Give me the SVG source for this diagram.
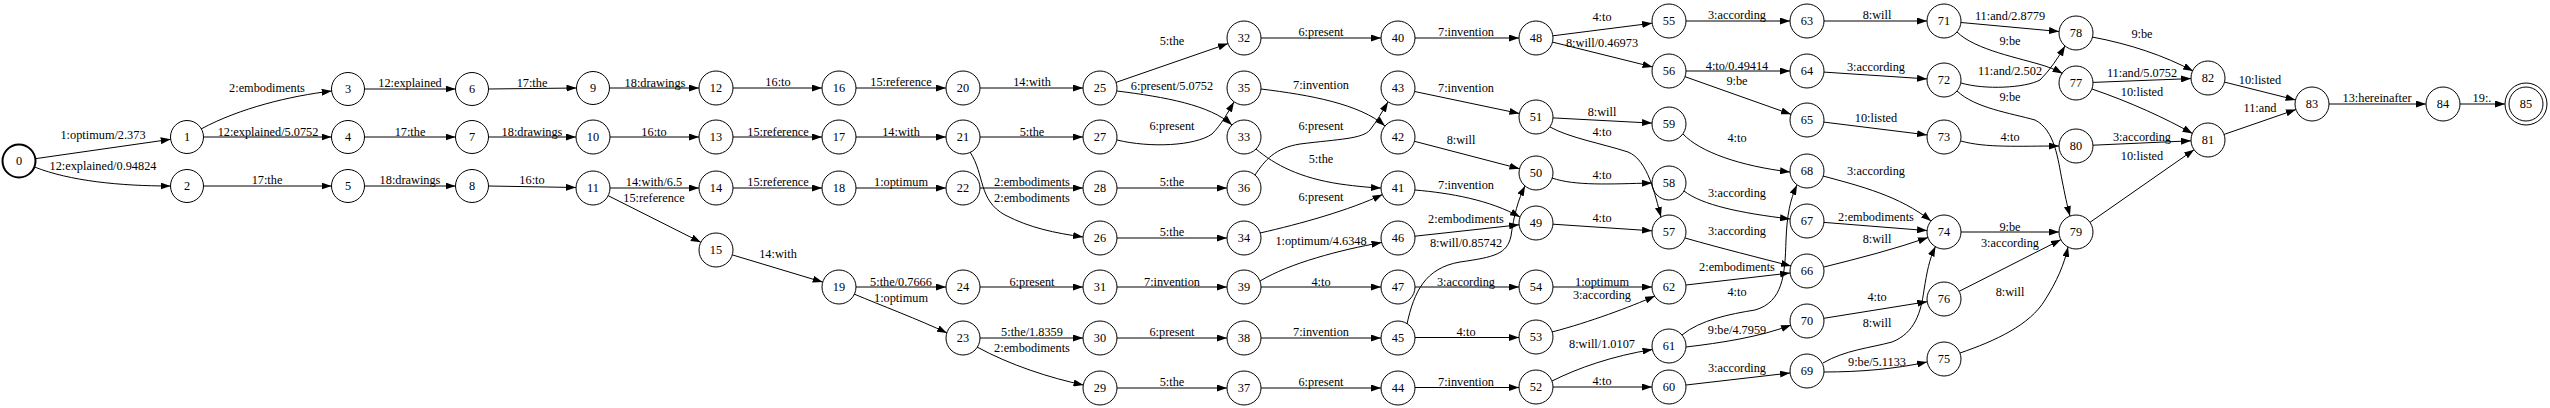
<svg xmlns="http://www.w3.org/2000/svg" width="2550" height="408" viewBox="0 0 2550 408">
<defs>
<marker id="a" markerUnits="userSpaceOnUse" markerWidth="10" markerHeight="7" refX="10" refY="3.5" orient="auto"><path d="M0,0 L10,3.5 L0,7 z" fill="#000"/></marker>
<style>
text{font-family:"Liberation Serif","Times New Roman",serif;font-size:12.3px;fill:#000;text-anchor:middle}
.n circle{fill:none;stroke:#000;stroke-width:1}
#edges path{fill:none;stroke:#000;stroke-width:1;marker-end:url(#a)}
</style>
</defs>
<rect width="2550" height="408" fill="#fff"/>
<g id="edges">
<g><path d="M35.3,158.7 L170.7,139.3"/><text x="103" y="139">1:optimum/2.373</text></g>
<g><path d="M34.5,167 C70,181 120,186 170.5,186"/><text x="103" y="170">12:explained/0.94824</text></g>
<g><path d="M201,129 C240,108 290,96 331.7,91"/><text x="267" y="92">2:embodiments</text></g>
<g><path d="M203.5,137 L331.5,137"/><text x="268" y="136">12:explained/5.0752</text></g>
<g><path d="M203.5,186 L331.5,186"/><text x="267" y="184">17:the</text></g>
<g><path d="M364.5,89 L455.5,89"/><text x="410" y="87">12:explained</text></g>
<g><path d="M364.5,137 L455.5,137"/><text x="410" y="136">17:the</text></g>
<g><path d="M364.5,186 L455.5,186"/><text x="410" y="184">18:drawings</text></g>
<g><path d="M488.5,89 L576.5,88"/><text x="532" y="86.5">17:the</text></g>
<g><path d="M488.5,137 L576,137"/><text x="532" y="136">18:drawings</text></g>
<g><path d="M488.5,186 L576,187.5"/><text x="532" y="184">16:to</text></g>
<g><path d="M609.5,88 L699,88"/><text x="655" y="86.5">18:drawings</text></g>
<g><path d="M610,137 L699,137"/><text x="654" y="136">16:to</text></g>
<g><path d="M610,188 L699,188"/><text x="654" y="186">14:with/6.5</text></g>
<g><path d="M608.2,195.7 L700.8,242.3"/><text x="654" y="202">15:reference</text></g>
<g><path d="M733,88 L822,88"/><text x="778" y="86">16:to</text></g>
<g><path d="M733,137 L822,137"/><text x="778" y="136">15:reference</text></g>
<g><path d="M733,188 L822,188"/><text x="778" y="186">15:reference</text></g>
<g><path d="M732.3,254.9 L822.7,282.1"/><text x="778" y="258">14:with</text></g>
<g><path d="M856,88 L946,88"/><text x="901" y="86">15:reference</text></g>
<g><path d="M856,137 L946,137"/><text x="901" y="136">14:with</text></g>
<g><path d="M856,188 L946,188"/><text x="901" y="186">1:optimum</text></g>
<g><path d="M856,287 L946,287"/><text x="901" y="285.5">5:the/0.7666</text></g>
<g><path d="M854,294 C880,305 920,320 947,333"/><text x="901" y="301.5">1:optimum</text></g>
<g><path d="M980,88 L1083,88"/><text x="1032" y="86">14:with</text></g>
<g><path d="M980,137 L1083,137"/><text x="1032" y="136">5:the</text></g>
<g><path d="M980,188 L1083,188"/><text x="1032" y="186">2:embodiments</text></g>
<g><path d="M970,152 C985,175 978,200 1005,215 C1030,228 1055,233 1083,237"/><text x="1032" y="202">2:embodiments</text></g>
<g><path d="M980,287 L1083,287"/><text x="1032" y="286">6:present</text></g>
<g><path d="M980,338 L1083,338"/><text x="1032" y="336">5:the/1.8359</text></g>
<g><path d="M977,347 C1010,365 1050,378 1083.5,385"/><text x="1032" y="352">2:embodiments</text></g>
<g><path d="M1116,82.4 L1228,43.6"/><text x="1172" y="45">5:the</text></g>
<g><path d="M1117,91 C1165,97 1210,105 1232,125"/><text x="1172" y="90">6:present/5.0752</text></g>
<g><path d="M1117,140 C1150,148 1195,146 1212,134 C1222,124 1228,112 1234,102"/><text x="1172" y="130">6:present</text></g>
<g><path d="M1117,188 L1227,188"/><text x="1172" y="186">5:the</text></g>
<g><path d="M1117,238 L1227,238"/><text x="1172" y="236">5:the</text></g>
<g><path d="M1117,287 L1227,287"/><text x="1172" y="286">7:invention</text></g>
<g><path d="M1117,338 L1227,338"/><text x="1172" y="336">6:present</text></g>
<g><path d="M1117,388 L1227,388"/><text x="1172" y="386">5:the</text></g>
<g><path d="M1261,38 L1381,38"/><text x="1321" y="36">6:present</text></g>
<g><path d="M1261,89 C1310,95 1360,104 1385,126"/><text x="1321" y="89">7:invention</text></g>
<g><path d="M1255,175 C1265,160 1275,148 1300,144 C1340,139 1362,139 1370,130 C1377,121 1382,112 1388,102"/><text x="1321" y="130">6:present</text></g>
<g><path d="M1256,149 C1275,165 1300,178 1340,184 C1358,186.5 1370,187.5 1381,188"/><text x="1321" y="163">5:the</text></g>
<g><path d="M1260,233 C1300,224 1350,210 1382.5,194.5"/><text x="1321" y="200.5">6:present</text></g>
<g><path d="M1260,281 C1290,263 1340,250 1381.5,242.5"/><text x="1321" y="244.5">1:optimum/4.6348</text></g>
<g><path d="M1261,287 L1381,287"/><text x="1321" y="285.5">4:to</text></g>
<g><path d="M1261,338 L1381,338"/><text x="1321" y="336">7:invention</text></g>
<g><path d="M1261,388 L1381,388"/><text x="1321" y="385.5">6:present</text></g>
<g><path d="M1415,38 L1519,38"/><text x="1466" y="36">7:invention</text></g>
<g><path d="M1414.6,91.5 L1519.4,113.5"/><text x="1466" y="92">7:invention</text></g>
<g><path d="M1414.5,141.3 L1519.5,168.7"/><text x="1461" y="144">8:will</text></g>
<g><path d="M1415,190 C1450,193 1490,200 1520,217"/><text x="1466" y="189">7:invention</text></g>
<g><path d="M1414.9,236.2 L1519.1,224.8"/><text x="1466" y="223">2:embodiments</text></g>
<g><path d="M1407,324 C1414,292 1425,268 1460,262 C1495,257 1507,254 1511,236 C1514,215 1518,200 1525,186"/><text x="1466" y="246.5">8:will/0.85742</text></g>
<g><path d="M1415,287 L1519,287"/><text x="1466" y="285.5">3:according</text></g>
<g><path d="M1415,337.5 L1519,337.5"/><text x="1466" y="336">4:to</text></g>
<g><path d="M1415,387.5 L1519,387.5"/><text x="1466" y="385.5">7:invention</text></g>
<g><path d="M1552.9,35.8 L1652.1,23.2"/><text x="1602" y="21">4:to</text></g>
<g><path d="M1552.5,42.1 L1652.5,66.9"/><text x="1602" y="46.5">8:will/0.46973</text></g>
<g><path d="M1553,117.9 L1652,123.1"/><text x="1602" y="116">8:will</text></g>
<g><path d="M1550,127 C1570,138 1600,143 1628,152 C1648,160 1655,195 1661,217"/><text x="1602" y="136">4:to</text></g>
<g><path d="M1552,178 C1575,186 1610,184 1652,183"/><text x="1602" y="179">4:to</text></g>
<g><path d="M1553,224.2 L1652,230.8"/><text x="1602" y="222">4:to</text></g>
<g><path d="M1553,287 L1652,287"/><text x="1602" y="285.5">1:optimum</text></g>
<g><path d="M1552,332 C1590,322 1630,307 1655,296"/><text x="1602" y="299">3:according</text></g>
<g><path d="M1552,381 C1578,368 1612,356 1652.5,349.5"/><text x="1602" y="348">8:will/1.0107</text></g>
<g><path d="M1553,387 L1652,387"/><text x="1602" y="385">4:to</text></g>
<g><path d="M1686,21 L1790,21"/><text x="1737" y="19">3:according</text></g>
<g><path d="M1686,71 L1790,71"/><text x="1737" y="69.5">4:to/0.49414</text></g>
<g><path d="M1685,76.7 L1791,114.3"/><text x="1737" y="85">9:be</text></g>
<g><path d="M1683,134 C1700,152 1740,166 1790,172"/><text x="1737" y="141.5">4:to</text></g>
<g><path d="M1684,191 C1702,205 1740,213 1790,219"/><text x="1737" y="196.5">3:according</text></g>
<g><path d="M1685,238 C1720,248 1760,258 1791,266"/><text x="1737" y="234.5">3:according</text></g>
<g><path d="M1686,285 L1790.1,273"/><text x="1737" y="271">2:embodiments</text></g>
<g><path d="M1682,335 C1700,320 1730,314 1755,310 C1783,302 1785,275 1786,240 C1787,215 1790,200 1797,185"/><text x="1737" y="296">4:to</text></g>
<g><path d="M1686,347 C1720,343 1760,337 1791,325"/><text x="1737" y="334">9:be/4.7959</text></g>
<g><path d="M1686,385 L1790,373"/><text x="1737" y="371.5">3:according</text></g>
<g><path d="M1824,21 L1927,21"/><text x="1877" y="19">8:will</text></g>
<g><path d="M1824,72.1 L1927,78.9"/><text x="1876" y="70.5">3:according</text></g>
<g><path d="M1823.9,122.1 L1927.1,134.9"/><text x="1876" y="121.5">10:listed</text></g>
<g><path d="M1823,176 C1860,186 1900,196 1931,221"/><text x="1876" y="175">3:according</text></g>
<g><path d="M1824,222.4 L1927,230.6"/><text x="1876" y="220.5">2:embodiments</text></g>
<g><path d="M1824,267 C1860,258 1895,249 1928,237.5"/><text x="1877" y="243">8:will</text></g>
<g><path d="M1823.8,318.3 L1927.2,301.7"/><text x="1877" y="301">4:to</text></g>
<g><path d="M1823,363 C1845,350 1870,348 1892,342 C1915,333 1921,312 1924,290 C1927,272 1929,260 1935.5,246.5"/><text x="1877" y="327">8:will</text></g>
<g><path d="M1824,372 C1860,372 1895,369 1927,362"/><text x="1877" y="365.5">9:be/5.1133</text></g>
<g><path d="M1961,22.5 L2059,31.5"/><text x="2010" y="20">11:and/2.8779</text></g>
<g><path d="M1957,32 C1975,50 2020,58 2045,66 C2054,69 2058,71 2062.5,73.5"/><text x="2010" y="44.5">9:be</text></g>
<g><path d="M1961,83 C1985,90 2025,88 2040,80 C2050,70 2058,58 2065,46"/><text x="2010" y="74.5">11:and/2.502</text></g>
<g><path d="M1957,91 C1975,108 2010,113 2035,120 C2055,130 2058,160 2062,180 C2065,195 2067,205 2070,216"/><text x="2010" y="101">9:be</text></g>
<g><path d="M1961,141 C1985,148 2020,146 2059,146"/><text x="2010" y="141">4:to</text></g>
<g><path d="M1961,232 L2059,232"/><text x="2010" y="230.5">9:be</text></g>
<g><path d="M1959.2,291.3 L2060.8,239.7"/><text x="2010" y="246.5">3:according</text></g>
<g><path d="M1960,353 C1995,341 2030,325 2045,300 C2057,281 2064,265 2068,247"/><text x="2010" y="295.5">8:will</text></g>
<g><path d="M2092,37 C2130,44 2165,56 2193,71"/><text x="2142" y="38">9:be</text></g>
<g><path d="M2093,82.4 L2191,78.6"/><text x="2142" y="77">11:and/5.0752</text></g>
<g><path d="M2092,89 C2130,102 2165,118 2192.5,133.5"/><text x="2142" y="95.5">10:listed</text></g>
<g><path d="M2093,145.2 L2191,140.8"/><text x="2142" y="141">3:according</text></g>
<g><path d="M2090,222.3 L2194.1,149.7"/><text x="2142" y="159.5">10:listed</text></g>
<g><path d="M2224.5,82.1 L2295.5,99.9"/><text x="2260" y="84">10:listed</text></g>
<g><path d="M2224.1,134.4 L2295.9,109.6"/><text x="2260" y="111.5">11:and</text></g>
<g><path d="M2329,104 L2426,104"/><text x="2377" y="102">13:hereinafter</text></g>
<g><path d="M2460,104 L2505,104"/><text x="2482" y="102">19:.</text></g>
</g>
<g id="n0" class="n"><circle cx="19" cy="161" r="16.5" style="stroke-width:2"/><text x="19" y="165.3">0</text></g>
<g id="n1" class="n"><circle cx="187" cy="137" r="16.5"/><text x="187" y="141.3">1</text></g>
<g id="n2" class="n"><circle cx="187" cy="186" r="16.5"/><text x="187" y="190.3">2</text></g>
<g id="n3" class="n"><circle cx="348" cy="89" r="16.5"/><text x="348" y="93.3">3</text></g>
<g id="n4" class="n"><circle cx="348" cy="137" r="16.5"/><text x="348" y="141.3">4</text></g>
<g id="n5" class="n"><circle cx="348" cy="186" r="16.5"/><text x="348" y="190.3">5</text></g>
<g id="n6" class="n"><circle cx="472" cy="89" r="16.5"/><text x="472" y="93.3">6</text></g>
<g id="n7" class="n"><circle cx="472" cy="137" r="16.5"/><text x="472" y="141.3">7</text></g>
<g id="n8" class="n"><circle cx="472" cy="186" r="16.5"/><text x="472" y="190.3">8</text></g>
<g id="n9" class="n"><circle cx="593" cy="88" r="16.5"/><text x="593" y="92.3">9</text></g>
<g id="n10" class="n"><circle cx="593" cy="137" r="17"/><text x="593" y="141.3">10</text></g>
<g id="n11" class="n"><circle cx="593" cy="188" r="17"/><text x="593" y="192.3">11</text></g>
<g id="n12" class="n"><circle cx="716" cy="88" r="17"/><text x="716" y="92.3">12</text></g>
<g id="n13" class="n"><circle cx="716" cy="137" r="17"/><text x="716" y="141.3">13</text></g>
<g id="n14" class="n"><circle cx="716" cy="188" r="17"/><text x="716" y="192.3">14</text></g>
<g id="n15" class="n"><circle cx="716" cy="250" r="17"/><text x="716" y="254.3">15</text></g>
<g id="n16" class="n"><circle cx="839" cy="88" r="17"/><text x="839" y="92.3">16</text></g>
<g id="n17" class="n"><circle cx="839" cy="137" r="17"/><text x="839" y="141.3">17</text></g>
<g id="n18" class="n"><circle cx="839" cy="188" r="17"/><text x="839" y="192.3">18</text></g>
<g id="n19" class="n"><circle cx="839" cy="287" r="17"/><text x="839" y="291.3">19</text></g>
<g id="n20" class="n"><circle cx="963" cy="88" r="17"/><text x="963" y="92.3">20</text></g>
<g id="n21" class="n"><circle cx="963" cy="137" r="17"/><text x="963" y="141.3">21</text></g>
<g id="n22" class="n"><circle cx="963" cy="188" r="17"/><text x="963" y="192.3">22</text></g>
<g id="n23" class="n"><circle cx="963" cy="338" r="17"/><text x="963" y="342.3">23</text></g>
<g id="n24" class="n"><circle cx="963" cy="287" r="17"/><text x="963" y="291.3">24</text></g>
<g id="n25" class="n"><circle cx="1100" cy="88" r="17"/><text x="1100" y="92.3">25</text></g>
<g id="n26" class="n"><circle cx="1100" cy="238" r="17"/><text x="1100" y="242.3">26</text></g>
<g id="n27" class="n"><circle cx="1100" cy="137" r="17"/><text x="1100" y="141.3">27</text></g>
<g id="n28" class="n"><circle cx="1100" cy="188" r="17"/><text x="1100" y="192.3">28</text></g>
<g id="n29" class="n"><circle cx="1100" cy="388" r="17"/><text x="1100" y="392.3">29</text></g>
<g id="n30" class="n"><circle cx="1100" cy="338" r="17"/><text x="1100" y="342.3">30</text></g>
<g id="n31" class="n"><circle cx="1100" cy="287" r="17"/><text x="1100" y="291.3">31</text></g>
<g id="n32" class="n"><circle cx="1244" cy="38" r="17"/><text x="1244" y="42.3">32</text></g>
<g id="n33" class="n"><circle cx="1244" cy="137" r="17"/><text x="1244" y="141.3">33</text></g>
<g id="n34" class="n"><circle cx="1244" cy="238" r="17"/><text x="1244" y="242.3">34</text></g>
<g id="n35" class="n"><circle cx="1244" cy="88" r="17"/><text x="1244" y="92.3">35</text></g>
<g id="n36" class="n"><circle cx="1244" cy="188" r="17"/><text x="1244" y="192.3">36</text></g>
<g id="n37" class="n"><circle cx="1244" cy="388" r="17"/><text x="1244" y="392.3">37</text></g>
<g id="n38" class="n"><circle cx="1244" cy="338" r="17"/><text x="1244" y="342.3">38</text></g>
<g id="n39" class="n"><circle cx="1244" cy="287" r="17"/><text x="1244" y="291.3">39</text></g>
<g id="n40" class="n"><circle cx="1398" cy="38" r="17"/><text x="1398" y="42.3">40</text></g>
<g id="n41" class="n"><circle cx="1398" cy="188" r="17"/><text x="1398" y="192.3">41</text></g>
<g id="n42" class="n"><circle cx="1398" cy="137" r="17"/><text x="1398" y="141.3">42</text></g>
<g id="n43" class="n"><circle cx="1398" cy="88" r="17"/><text x="1398" y="92.3">43</text></g>
<g id="n44" class="n"><circle cx="1398" cy="388" r="17"/><text x="1398" y="392.3">44</text></g>
<g id="n45" class="n"><circle cx="1398" cy="338" r="17"/><text x="1398" y="342.3">45</text></g>
<g id="n46" class="n"><circle cx="1398" cy="238" r="17"/><text x="1398" y="242.3">46</text></g>
<g id="n47" class="n"><circle cx="1398" cy="287" r="17"/><text x="1398" y="291.3">47</text></g>
<g id="n48" class="n"><circle cx="1536" cy="38" r="17"/><text x="1536" y="42.3">48</text></g>
<g id="n49" class="n"><circle cx="1536" cy="223" r="17"/><text x="1536" y="227.3">49</text></g>
<g id="n50" class="n"><circle cx="1536" cy="173" r="17"/><text x="1536" y="177.3">50</text></g>
<g id="n51" class="n"><circle cx="1536" cy="117" r="17"/><text x="1536" y="121.3">51</text></g>
<g id="n52" class="n"><circle cx="1536" cy="387" r="17"/><text x="1536" y="391.3">52</text></g>
<g id="n53" class="n"><circle cx="1536" cy="337" r="17"/><text x="1536" y="341.3">53</text></g>
<g id="n54" class="n"><circle cx="1536" cy="287" r="17"/><text x="1536" y="291.3">54</text></g>
<g id="n55" class="n"><circle cx="1669" cy="21" r="17"/><text x="1669" y="25.3">55</text></g>
<g id="n56" class="n"><circle cx="1669" cy="71" r="17"/><text x="1669" y="75.3">56</text></g>
<g id="n57" class="n"><circle cx="1669" cy="232" r="17"/><text x="1669" y="236.3">57</text></g>
<g id="n58" class="n"><circle cx="1669" cy="183" r="17"/><text x="1669" y="187.3">58</text></g>
<g id="n59" class="n"><circle cx="1669" cy="124" r="17"/><text x="1669" y="128.3">59</text></g>
<g id="n60" class="n"><circle cx="1669" cy="387" r="17"/><text x="1669" y="391.3">60</text></g>
<g id="n61" class="n"><circle cx="1669" cy="346" r="17"/><text x="1669" y="350.3">61</text></g>
<g id="n62" class="n"><circle cx="1669" cy="287" r="17"/><text x="1669" y="291.3">62</text></g>
<g id="n63" class="n"><circle cx="1807" cy="21" r="17"/><text x="1807" y="25.3">63</text></g>
<g id="n64" class="n"><circle cx="1807" cy="71" r="17"/><text x="1807" y="75.3">64</text></g>
<g id="n65" class="n"><circle cx="1807" cy="120" r="17"/><text x="1807" y="124.3">65</text></g>
<g id="n66" class="n"><circle cx="1807" cy="271" r="17"/><text x="1807" y="275.3">66</text></g>
<g id="n67" class="n"><circle cx="1807" cy="221" r="17"/><text x="1807" y="225.3">67</text></g>
<g id="n68" class="n"><circle cx="1807" cy="171" r="17"/><text x="1807" y="175.3">68</text></g>
<g id="n69" class="n"><circle cx="1807" cy="371" r="17"/><text x="1807" y="375.3">69</text></g>
<g id="n70" class="n"><circle cx="1807" cy="321" r="17"/><text x="1807" y="325.3">70</text></g>
<g id="n71" class="n"><circle cx="1944" cy="21" r="17"/><text x="1944" y="25.3">71</text></g>
<g id="n72" class="n"><circle cx="1944" cy="80" r="17"/><text x="1944" y="84.3">72</text></g>
<g id="n73" class="n"><circle cx="1944" cy="137" r="17"/><text x="1944" y="141.3">73</text></g>
<g id="n74" class="n"><circle cx="1944" cy="232" r="17"/><text x="1944" y="236.3">74</text></g>
<g id="n75" class="n"><circle cx="1944" cy="359" r="17"/><text x="1944" y="363.3">75</text></g>
<g id="n76" class="n"><circle cx="1944" cy="299" r="17"/><text x="1944" y="303.3">76</text></g>
<g id="n77" class="n"><circle cx="2076" cy="83" r="17"/><text x="2076" y="87.3">77</text></g>
<g id="n78" class="n"><circle cx="2076" cy="33" r="17"/><text x="2076" y="37.3">78</text></g>
<g id="n79" class="n"><circle cx="2076" cy="232" r="17"/><text x="2076" y="236.3">79</text></g>
<g id="n80" class="n"><circle cx="2076" cy="146" r="17"/><text x="2076" y="150.3">80</text></g>
<g id="n81" class="n"><circle cx="2208" cy="140" r="17"/><text x="2208" y="144.3">81</text></g>
<g id="n82" class="n"><circle cx="2208" cy="78" r="17"/><text x="2208" y="82.3">82</text></g>
<g id="n83" class="n"><circle cx="2312" cy="104" r="17"/><text x="2312" y="108.3">83</text></g>
<g id="n84" class="n"><circle cx="2443" cy="104" r="17"/><text x="2443" y="108.3">84</text></g>
<g id="n85" class="n"><circle cx="2526" cy="104" r="17"/><circle cx="2526" cy="104" r="21"/><text x="2526" y="108.3">85</text></g>
</svg>
